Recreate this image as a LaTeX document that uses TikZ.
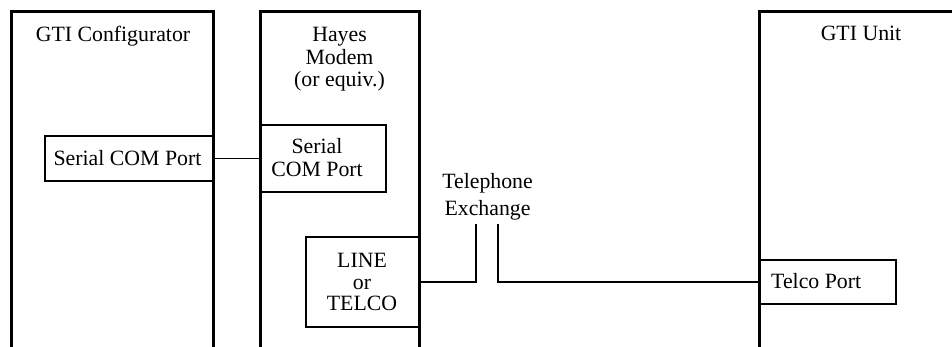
\documentclass[tikz,border=0pt]{standalone}
\usepackage{fontspec}
\setmainfont{Liberation Serif}
\begin{document}
\begin{tikzpicture}[x=1pt,y=-1pt,
  box/.style={draw, line width=1.5pt, inner sep=0pt, anchor=north west},
  unit/.style={line width=3pt, line join=miter},
  wire/.style={line width=1.5pt},
  lbl/.style={inner sep=0pt, font=\fontsize{21.8}{22.3}\selectfont, align=center, anchor=base}]
\useasboundingbox (0,0) rectangle (952,346);
% port boxes
\node[box, minimum width=169pt, minimum height=45pt] (sportA) at (44,135) {};
\node[box, minimum width=125pt, minimum height=67pt] (sportB) at (260,124) {};
\node[box, minimum width=114pt, minimum height=90pt] (lineB) at (305,236) {};
\node[box, minimum width=136pt, minimum height=44pt] (telco) at (759,259) {};
% units (open at the bottom)
\draw[unit] (11,350) -- (11,11) -- (213,11) -- (213,350);
\draw[unit] (260,350) -- (260,11) -- (419,11) -- (419,350);
\draw[unit] (759,350) -- (759,11) -- (960,11);
% wires
\coordinate (exL) at (476,224);
\coordinate (exR) at (498,224);
\draw[wire] (sportA.east) -- (sportB.west);
\draw[wire] (lineB.east) -| (exL);
\draw[wire] (exR) |- (telco.west);
% labels (multi-line: base = baseline of last line)
\node[lbl] (cfgT) at (113,41.7) {GTI Configurator};
\node[lbl] (hayT) at (339.5,86.3) {Hayes\\Modem\\(or equiv.)};
\node[lbl] (gtiT) at (861,40.7) {GTI Unit};
\node[lbl] (sportAt) at (127.5,165) {Serial COM Port};
\node[lbl] (sportBt) at (317,176) {Serial\\COM Port};
\node[lbl, font=\fontsize{21.8}{21.5}\selectfont] (lineBt) at (362,310.5) {LINE\\or\\TELCO};
\node[lbl, font=\fontsize{21.8}{26.7}\selectfont] (exT) at (487.5,215) {Telephone\\Exchange};
\node[lbl, anchor=base west] (telcoT) at (771,288) {Telco Port};
\end{tikzpicture}
\end{document}
